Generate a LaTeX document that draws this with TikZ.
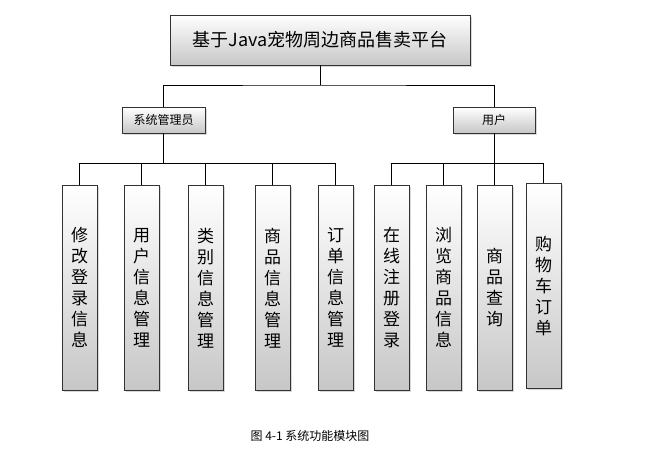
\documentclass[tikz,border=0pt]{standalone}
\usepackage{fontspec}
\setmainfont{Noto Sans CJK SC}
\XeTeXlinebreaklocale "zh"
\XeTeXlinebreakskip=0pt plus 1pt
\usetikzlibrary{shadows}
\begin{document}
\begin{tikzpicture}[x=1pt,y=-1pt,
  box/.style={draw=black!80,line width=0.6pt,top color=white,bottom color=black!22,drop shadow={shadow xshift=2pt,shadow yshift=-2pt,fill=black!30},inner sep=0pt},
  leaf/.style={box,minimum width=35pt,minimum height=205pt,anchor=north,font=\fontsize{17}{21}\selectfont,text width=18pt,align=center},
  ln/.style={draw=black,line width=0.7pt}]
\useasboundingbox (0,0) rectangle (669,452);
\node[box,minimum width=300pt,minimum height=50pt,font=\fontsize{18}{22}\selectfont] (top) at (320,40) {基于Java宠物周边商品售卖平台};
\node[box,minimum width=83pt,minimum height=26pt,font=\fontsize{12}{14}\selectfont] (adm) at (163.5,120) {系统管理员};
\node[box,minimum width=82pt,minimum height=26pt,font=\fontsize{12}{14}\selectfont] (usr) at (494,120) {用户};
\foreach \n/\x/\t in {a/79.5/修改登录信息,b/141.5/用户信息管理,c/205.5/类别信息管理,d/272.5/商品信息管理,e/335.5/订单信息管理,f/391.5/在线注册登录,g/443.5/浏览商品信息,h/494.5/商品查询}
  \node[leaf] (\n) at (\x,185) {\t};
\node[leaf] (i) at (543.5,183) {购物车订单};
\coordinate (j0) at (320,85);
\draw[ln] (top.south) -- (j0);
\draw[ln] (adm.north) |- (j0) -| (usr.north);
\coordinate (j1) at (163.5,163);
\coordinate (j2) at (494,163);
\draw[ln] (adm.south) -- (j1);
\draw[ln] (usr.south) -- (j2);
\foreach \n in {a,b,c,d,e} \draw[ln] (j1) -| (\n.north);
\foreach \n in {f,g,h,i} \draw[ln] (j2) -| (\n.north);
\node[font=\fontsize{12}{14}\selectfont] (cap) at (310,436) {图 4-1 系统功能模块图};
\end{tikzpicture}
\end{document}
